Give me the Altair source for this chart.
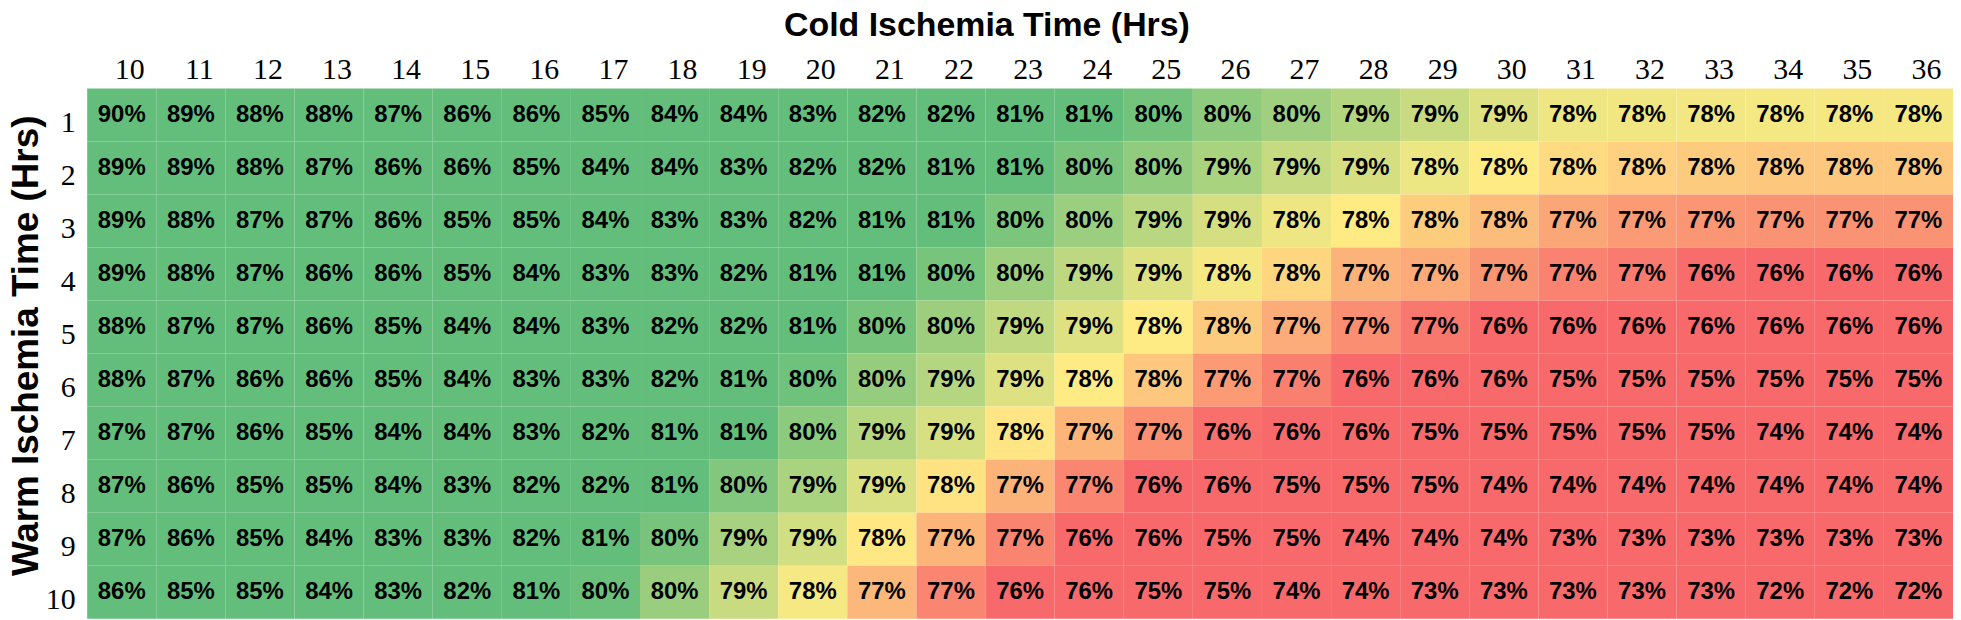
import altair as alt
import pandas as pd

# Cold ischemia time (columns) and warm ischemia time (rows), hours
cold_hours = [10, 11, 12, 13, 14, 15, 16, 17, 18, 19, 20, 21, 22, 23, 24,
              25, 26, 27, 28, 29, 30, 31, 32, 33, 34, 35, 36]
warm_hours = [1, 2, 3, 4, 5, 6, 7, 8, 9, 10]

# Survival (%) per warm-ischemia row; labels show the rounded value,
# decimals estimated from the cell shading
warm_1 = [90, 89, 88, 88, 87, 86, 86, 85, 84, 84, 83, 82, 82, 81, 81, 80.25,
          79.85, 79.6, 79.3, 79.0, 78.7, 78.45, 78.42, 78.39, 78.36, 78.35, 78.35]
warm_2 = [89, 89, 88, 87, 86, 86, 85, 84, 84, 83, 82, 82, 81, 81, 80.19, 79.84,
          79.45, 79.05, 78.82, 78.48, 78.2, 77.95, 77.8, 77.73, 77.68, 77.68, 77.68]
warm_3 = [89, 88, 87, 87, 86, 85, 85, 84, 83, 83, 82, 81, 81, 80.13, 79.67, 79.23,
          78.82, 78.45, 78.2, 77.76, 77.52, 77.19, 77.03, 76.96, 76.91, 76.91, 76.91]
warm_4 = [89, 88, 87, 86, 86, 85, 84, 83, 83, 82, 81, 81, 80.2, 79.63, 79.17, 78.69,
          78.35, 77.9, 77.38, 77.25, 76.94, 76.68, 76.55, 76.36, 76, 76, 76]
warm_5 = [88, 87, 87, 86, 85, 84, 84, 83, 82, 82, 81, 80.22, 79.66, 79.13, 78.69, 78.2,
          77.73, 77.28, 76.84, 76.52, 76, 76, 76, 76, 76, 76, 76]
warm_6 = [88, 87, 86, 86, 85, 84, 83, 83, 82, 81, 80.32, 79.76, 79.29, 78.7, 78.2, 77.69,
          77.02, 76.64, 76, 76, 76, 75, 75, 75, 75, 75, 75]
warm_7 = [87, 87, 86, 85, 84, 84, 83, 82, 81, 80.52, 79.9, 79.26, 78.8, 78.11, 77.4, 76.85,
          76.39, 76, 76, 75, 75, 75, 75, 75, 74, 74, 74]
warm_8 = [87, 86, 85, 85, 84, 83, 82, 82, 81, 80.04, 79.45, 78.78, 78.09, 77.38, 76.71, 76,
          76, 75, 75, 75, 74, 74, 74, 74, 74, 74, 74]
warm_9 = [87, 86, 85, 84, 83, 83, 82, 81, 80.18, 79.49, 78.88, 78.15, 77.4, 76.7, 76, 76,
          75, 75, 74, 74, 74, 73, 73, 73, 73, 73, 73]
warm_10 = [86, 85, 85, 84, 83, 82, 81, 80.38, 79.69, 79.0, 78.33, 77.45, 76.72, 76, 76, 75,
           75, 74, 74, 73, 73, 73, 73, 73, 72, 72, 72]

rows = [warm_1, warm_2, warm_3, warm_4, warm_5, warm_6, warm_7, warm_8, warm_9, warm_10]

records = []
for w, vals in zip(warm_hours, rows):
    for c, v in zip(cold_hours, vals):
        records.append({"cold": c, "warm": w, "value": v})
df = pd.DataFrame(records)

x_enc = alt.X(
    "cold:O",
    sort=cold_hours,
    scale=alt.Scale(paddingInner=0, paddingOuter=0),
    axis=alt.Axis(
        orient="top",
        title="Cold Ischemia Time (Hrs)",
        labelAngle=0,
        domain=False,
        ticks=False,
        labelFont="Liberation Serif",
        labelFontSize=30,
        labelColor="black",
        labelAlign="right",
        labelOffset=23,
        labelPadding=10,
        labelBaseline="alphabetic",
        titleFont="Liberation Sans",
        titleFontSize=34,
        titleFontWeight="bold",
        titleColor="black",
        titleX=903,
        titleY=-53,
        titleAlign="center",
        titleBaseline="alphabetic",
    ),
)

y_enc = alt.Y(
    "warm:O",
    sort=warm_hours,
    scale=alt.Scale(paddingInner=0, paddingOuter=0),
    axis=alt.Axis(
        orient="left",
        title="Warm Ischemia Time (Hrs)",
        domain=False,
        ticks=False,
        labelFont="Liberation Serif",
        labelFontSize=30,
        labelColor="black",
        labelAlign="right",
        labelBaseline="middle",
        labelOffset=8,
        labelPadding=12,
        titleFont="Liberation Sans",
        titleFontSize=37,
        titleFontWeight="bold",
        titleColor="black",
        titleAngle=270,
        titleX=-61,
        titleY=258,
        titleAlign="center",
        titleBaseline="middle",
    ),
)

color_scale = alt.Scale(
    domain=[76.3, 78.2, 80.5],
    range=["#F8696B", "#FFEB84", "#63BE7B"],
    clamp=True,
    interpolate="rgb",
)

base = alt.Chart(df).encode(x=x_enc, y=y_enc)

cells = base.mark_rect().encode(
    color=alt.Color("value:Q", scale=color_scale, legend=None)
)

labels = base.mark_text(
    font="Liberation Sans", fontWeight="bold", fontSize=24, color="black"
).transform_calculate(
    label="format(datum.value, '.0f') + '%'"
).encode(text="label:N")

chart = (
    alt.layer(cells, labels)
    .properties(
        width=1873.5,
        height=532.5,
        autosize=alt.AutoSizeParams(type="none"),
        padding={"left": 79.5, "top": 79.5, "right": 0, "bottom": 0},
        background="white",
    )
    .configure_view(stroke=None)
)

chart.save("out.html", embed_options={"renderer": "svg", "actions": False})
